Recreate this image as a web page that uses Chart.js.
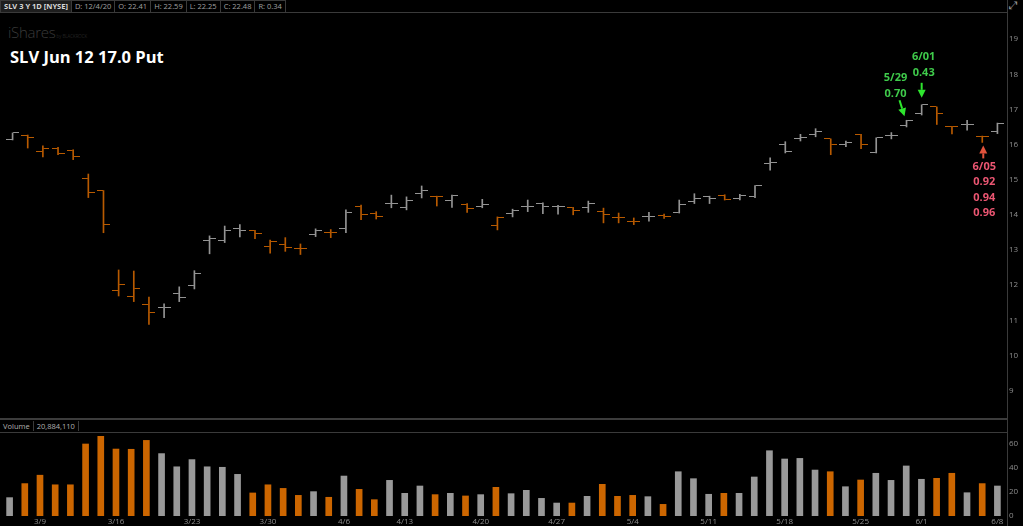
<!DOCTYPE html>
<html>
<head>
<meta charset="utf-8">
<title>SLV Jun 12 17.0 Put</title>
<script src="https://cdn.jsdelivr.net/npm/chart.js@4.4.0/dist/chart.umd.min.js"></script>
<style>
  body { margin: 0; background: #000; }
  #wrap { position: relative; width: 1023px; height: 526px; background: #000; overflow: hidden; font-family: "Open Sans", sans-serif; }
  #header { position: absolute; left: 0; top: 0; height: 11px; display: flex; }
  #header div { height: 11px; line-height: 11px; font-size: 7.5px; color: #a0a0a0; border: 1px solid #3a3a3a; border-left: none; padding: 0 3px; white-space: nowrap; }
  #header div.first { color: #d8d8d8; font-weight: bold; background: #1e1e1e; border-left: 1px solid #3a3a3a; }
  #topLine { position: absolute; left: 0; top: 12px; width: 1007px; height: 1px; background: #3a3a3a; }
  #rightLine { position: absolute; left: 1007px; top: 0; width: 1px; height: 526px; background: #3a3a3a; }
  #expand { position: absolute; left: 1009px; top: -1px; font-size: 11px; color: #9a9a9a; font-family: "DejaVu Sans"; }
  #logo { position: absolute; left: 8px; top: 22px; color: #3a3a3a; font-size: 15px; font-weight: 300; letter-spacing: -0.3px; }
  #logo span { font-size: 4.5px; letter-spacing: 0; }
  #title { position: absolute; left: 10px; top: 45px; color: #fff; font-size: 16.5px; font-weight: bold; }
  #priceBox { position: absolute; left: 0; top: 13px; width: 1023px; height: 405px; }
  #sepTop { position: absolute; left: 0; top: 418px; width: 1007px; height: 2px; background: #3c3c3c; }
  #volHead { position: absolute; left: 0; top: 421px; height: 11px; display: flex; }
  #volHead div { height: 10px; line-height: 10px; font-size: 7.5px; color: #b0b0b0; border-right: 1px solid #3a3a3a; padding: 0 3px; }
  #sepVol { position: absolute; left: 0; top: 432px; width: 1007px; height: 1px; background: #3a3a3a; }
  #volBox { position: absolute; left: 0; top: 432px; width: 1023px; height: 94px; }
</style>
</head>
<body>
<div id="wrap">
  <div id="header">
    <div class="first">SLV 3 Y 1D [NYSE]</div>
    <div>D: 12/4/20</div>
    <div>O: 22.41</div>
    <div>H: 22.59</div>
    <div>L: 22.25</div>
    <div>C: 22.48</div>
    <div>R: 0.34</div>
  </div>
  <div id="topLine"></div>
  <div id="rightLine"></div>
  <div id="expand">&#10530;</div>
  <div id="logo">iShares<span> by BLACKROCK</span></div>
  <div id="title">SLV Jun 12 17.0 Put</div>
  <div id="priceBox"><canvas id="priceChart"></canvas></div>
  <div id="sepTop"></div>
  <div id="volHead"><div>Volume</div><div>20,884,110</div></div>
  <div id="sepVol"></div>
  <div id="volBox"><canvas id="volumeChart"></canvas></div>
</div>
<script>
// trading days shown on the chart
const dates = ['3/5','3/6','3/9','3/10','3/11','3/12','3/13','3/16','3/17','3/18','3/19','3/20',
  '3/23','3/24','3/25','3/26','3/27','3/30','3/31','4/1','4/2','4/3','4/6','4/7','4/8','4/9',
  '4/13','4/14','4/15','4/16','4/17','4/20','4/21','4/22','4/23','4/24','4/27','4/28','4/29','4/30',
  '5/1','5/4','5/5','5/6','5/7','5/8','5/11','5/12','5/13','5/14','5/15','5/18','5/19','5/20','5/21','5/22',
  '5/26','5/27','5/28','5/29','6/1','6/2','6/3','6/4','6/5','6/8'];

const opens = [16.15,16.27,15.81,15.90,15.83,15.03,14.69,11.85,11.68,11.46,11.36,11.75,
  12.00,13.26,13.28,13.61,13.54,13.11,13.15,13.03,13.44,13.51,13.60,14.23,14.05,14.32,
  14.21,14.60,14.53,14.40,14.30,14.23,13.69,14.03,14.25,14.32,14.23,14.21,14.21,14.09,
  13.91,13.82,13.95,13.97,14.06,14.37,14.51,14.55,14.46,14.51,15.45,16.01,16.18,16.29,16.16,15.99,
  16.29,15.76,16.25,16.55,16.87,17.07,16.52,16.57,16.22,16.38];
const highs = [16.33,16.27,15.96,15.92,15.85,15.16,14.69,12.43,12.40,11.66,11.47,11.95,
  12.41,13.40,13.68,13.72,13.56,13.28,13.35,13.17,13.60,13.58,14.14,14.28,14.09,14.56,
  14.51,14.82,14.53,14.56,14.32,14.44,13.94,14.16,14.42,14.34,14.27,14.21,14.39,14.19,
  14.05,13.91,14.07,14.02,14.42,14.60,14.53,14.57,14.58,14.83,15.62,16.08,16.29,16.45,16.16,16.10,
  16.29,16.19,16.34,16.69,17.13,17.07,16.52,16.69,16.24,16.61];
const lows = [16.13,15.90,15.65,15.71,15.57,14.49,13.49,11.69,11.53,10.88,11.07,11.53,
  11.89,12.89,13.21,13.37,13.32,12.91,12.96,12.87,13.38,13.35,13.49,13.86,13.88,14.20,
  14.14,14.48,14.25,14.21,14.07,14.20,13.57,13.94,14.09,14.03,14.02,14.00,14.07,13.77,
  13.77,13.72,13.82,13.90,14.05,14.32,14.32,14.42,14.42,14.49,15.27,15.76,16.10,16.22,15.71,15.94,
  15.88,15.76,16.16,16.50,16.84,16.57,16.30,16.41,16.06,16.31];
const closes = [16.33,16.20,15.89,15.74,15.67,14.64,13.72,12.03,11.91,11.23,11.35,11.66,
  12.34,13.33,13.54,13.56,13.47,13.23,13.08,13.05,13.56,13.50,14.06,14.00,13.95,14.32,
  14.42,14.68,14.53,14.55,14.18,14.30,13.91,14.12,14.23,14.24,14.25,14.12,14.32,14.00,
  13.91,13.80,13.96,13.94,14.28,14.46,14.47,14.44,14.56,14.83,15.50,15.79,16.20,16.38,15.99,16.06,
  15.99,16.19,16.25,16.67,17.13,16.87,16.50,16.57,16.22,16.61];
const volumes = [15.3,27,34,26,26,60,66.4,55.8,55.6,63,52,41,
  47,41,40.6,34.7,19.2,26,23,17.2,20.3,15.6,33.3,22.2,13.6,29.7,
  18.9,25,17.8,18.9,16.7,17.8,23.9,18.6,21.4,14.7,10.8,10.8,16.4,26.4,
  16.4,17.2,16.1,9.7,36.9,31.1,18.1,18.9,18.9,32.5,54.4,47.5,48,38.3,36.9,24.4,
  30,35.6,29.7,41.7,30.6,31.4,35.6,19.4,27,25];

const priceTicks = [9,10,11,12,13,14,15,16,17,18,19];
const volumeTicks = [0,20,40,60];
// first trading day of each week and the name printed under it
const weekStarts = ['3/9','3/16','3/23','3/30','4/6','4/13','4/20','4/27','5/4','5/11','5/18','5/26','6/1','6/8'];
const weekNames  = ['3/9','3/16','3/23','3/30','4/6','4/13','4/20','4/27','5/4','5/11','5/18','5/25','6/1','6/8'];

// option marks written on the chart
const notes = [
  { date: '5/29', lines: ['5/29', '0.70'], at: 'high' },
  { date: '6/1',  lines: ['6/01', '0.43'], at: 'high' },
  { date: '6/5',  lines: ['6/05', '0.92', '0.94', '0.96'], at: 'low' }
];

// up day = close at or above previous close
const up = closes.map((c, i) => i === 0 || c >= closes[i - 1]);

const GREY = '#949494';
const ORANGE = '#b85a00';
const VOL_GREY = '#999999';
const VOL_ORANGE = '#cc6600';
const TICK_COLOR = '#8e8e8e';

function tickImage(color, side) {
  const c = document.createElement('canvas');
  c.width = 13;
  c.height = 1;
  const g = c.getContext('2d');
  g.fillStyle = color;
  g.fillRect(side === 'open' ? 0 : 7, 0, 6, 1);
  return c;
}
const openGrey = tickImage(GREY, 'open'), openOrange = tickImage(ORANGE, 'open');
const closeGrey = tickImage(GREY, 'close'), closeOrange = tickImage(ORANGE, 'close');

// arrow / text offsets for each note, relative to the bar it points at
const noteLayout = {
  '5/29': { tip: [-2, -4], tail: [-7, -20], text: [-11, -26], step: 16 },
  '6/1':  { tip: [0, -7], tail: [0, -22], text: [2, -32], step: 16 },
  '6/5':  { tip: [1, 3], tail: [1, 16], text: [2, 24], step: 15.5 }
};

function drawArrow(ctx, x1, y1, x2, y2, color) {
  const ang = Math.atan2(y2 - y1, x2 - x1);
  const head = 8, half = 4;
  const bx = x2 - Math.cos(ang) * head, by = y2 - Math.sin(ang) * head;
  ctx.strokeStyle = color;
  ctx.fillStyle = color;
  ctx.lineWidth = 2;
  ctx.beginPath();
  ctx.moveTo(x1, y1);
  ctx.lineTo(bx, by);
  ctx.stroke();
  ctx.beginPath();
  ctx.moveTo(x2, y2);
  ctx.lineTo(bx + Math.sin(ang) * half, by - Math.cos(ang) * half);
  ctx.lineTo(bx - Math.sin(ang) * half, by + Math.cos(ang) * half);
  ctx.closePath();
  ctx.fill();
}

const notePlugin = {
  id: 'notes',
  afterDatasetsDraw(chart) {
    const ctx = chart.ctx;
    const xs = chart.scales.x, ys = chart.scales.y;
    ctx.save();
    ctx.font = 'bold 11px "Open Sans"';
    ctx.textAlign = 'center';
    ctx.textBaseline = 'middle';
    notes.forEach(n => {
      const i = dates.indexOf(n.date);
      const lay = noteLayout[n.date];
      const x = xs.getPixelForValue(i);
      const y = ys.getPixelForValue(n.at === 'high' ? highs[i] : lows[i]);
      const above = n.at === 'high';
      drawArrow(ctx, x + lay.tail[0], y + lay.tail[1], x + lay.tip[0], y + lay.tip[1],
        above ? '#2ee62e' : '#e2533c');
      ctx.fillStyle = above ? '#3fcb4b' : '#eb5672';
      const count = n.lines.length;
      n.lines.forEach((t, k) => {
        const off = above ? -(count - 1 - k) * lay.step : k * lay.step;
        ctx.fillText(t, x + lay.text[0], y + lay.text[1] + off);
      });
    });
    ctx.restore();
  }
};

const fixedTicks = list => scale => { scale.ticks = list.map(v => ({ value: v })); };
// keep the plot area full height: no room reserved for the end labels
const rightAxisFit = scale => {
  scale.width = 18;
  scale.paddingTop = 0;
  scale.paddingBottom = 0;
};

new Chart(document.getElementById('priceChart'), {
  type: 'bar',
  data: {
    labels: dates,
    datasets: [
      {
        type: 'bar',
        data: dates.map((d, i) => [lows[i], highs[i]]),
        backgroundColor: up.map(u => u ? GREY : ORANGE),
        barThickness: 1,
        order: 2
      },
      {
        type: 'line',
        data: opens,
        showLine: false,
        pointRadius: 3,
        pointStyle: up.map(u => u ? openGrey : openOrange),
        order: 1
      },
      {
        type: 'line',
        data: closes,
        showLine: false,
        pointRadius: 3,
        pointStyle: up.map(u => u ? closeGrey : closeOrange),
        order: 1
      }
    ]
  },
  options: {
    responsive: true,
    maintainAspectRatio: false,
    animation: false,
    events: [],
    layout: { padding: { left: 2, right: 0, top: 0, bottom: 0 } },
    plugins: { legend: { display: false }, tooltip: { enabled: false } },
    scales: {
      x: { display: false, offset: true },
      y: {
        position: 'right',
        min: 8.36,
        max: 19.6,
        afterBuildTicks: fixedTicks(priceTicks),
        afterFit: rightAxisFit,
        grid: { display: false, drawTicks: false },
        border: { display: false },
        ticks: { color: TICK_COLOR, font: { size: 8, family: 'Open Sans' }, padding: 4 }
      }
    }
  },
  plugins: [notePlugin]
});

new Chart(document.getElementById('volumeChart'), {
  type: 'bar',
  data: {
    labels: dates,
    datasets: [{
      data: volumes,
      backgroundColor: up.map(u => u ? VOL_GREY : VOL_ORANGE),
      barThickness: 6
    }]
  },
  options: {
    responsive: true,
    maintainAspectRatio: false,
    animation: false,
    events: [],
    layout: { padding: { left: 2, right: 0, top: 0, bottom: 0 } },
    plugins: { legend: { display: false }, tooltip: { enabled: false } },
    scales: {
      x: {
        offset: true,
        afterFit: s => { s.height = 10; },
        grid: { display: false, drawTicks: false },
        border: { display: false },
        ticks: {
          autoSkip: false,
          maxRotation: 0,
          padding: 1,
          color: TICK_COLOR,
          font: { size: 8, family: 'Open Sans' },
          callback: (v, i) => {
            const k = weekStarts.indexOf(dates[i]);
            return k < 0 ? '' : weekNames[k];
          }
        }
      },
      y: {
        position: 'right',
        min: 0,
        max: 70,
        afterBuildTicks: fixedTicks(volumeTicks),
        afterFit: rightAxisFit,
        grid: { display: false, drawTicks: false },
        border: { display: false },
        ticks: { color: TICK_COLOR, font: { size: 8, family: 'Open Sans' }, padding: 4 }
      }
    }
  }
});
</script>
</body>
</html>
